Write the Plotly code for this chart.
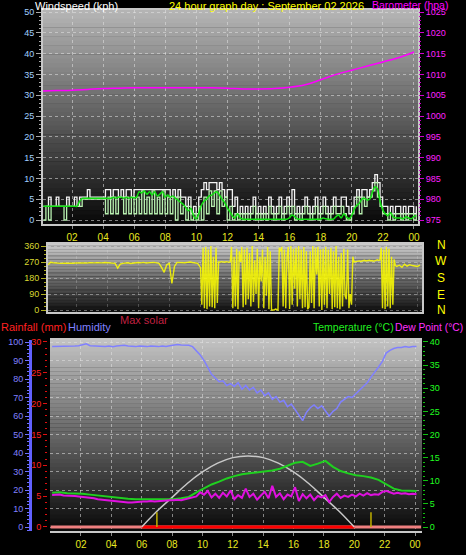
import numpy as np
import plotly.graph_objects as go

# ---------------- DATA ----------------
hour_ticks = [2, 4, 6, 8, 10, 12, 14, 16, 18, 20, 22, 24]
hour_labels = ["02", "04", "06", "08", "10", "12", "14", "16", "18", "20", "22", "00"]

# wind, 10-minute samples starting 00:09
wind_gust = [
    3.3, 3.3, 5.5, 3.3, 3.3, 5.5,
    3.3, 3.3, 3.3, 5.5, 3.3, 3.3,
    5.5, 3.3, 5.5, 5.5, 5.5, 7.3,
    5.5, 5.5, 5.5, 5.5, 5.5, 5.5,
    7.3, 7.3, 5.5, 7.3, 7.3, 5.5,
    7.3, 5.5, 7.3, 7.3, 5.5, 7.3,
    7.3, 7.3, 7.3, 7.3, 7.3, 7.3,
    7.3, 7.3, 7.3, 7.3, 7.3, 7.3,
    7.3, 5.5, 7.3, 5.5, 7.3, 5.5,
    5.5, 3.3, 5.5, 1.5, 3.3, 1.5,
    5.5, 7.3, 9.0, 7.3, 9.0, 9.0,
    9.0, 7.3, 9.0, 7.3, 5.5, 7.3,
    7.3, 3.3, 5.5, 1.5, 3.3, 1.5,
    3.3, 1.5, 3.3, 5.5, 1.5, 3.3,
    1.5, 3.3, 1.5, 5.5, 3.3, 1.5,
    3.3, 5.5, 1.5, 3.3, 5.5, 3.3,
    7.3, 1.5, 3.3, 1.5, 3.3, 5.5,
    3.3, 1.5, 3.3, 5.5, 1.5, 3.3,
    5.5, 3.3, 1.5, 3.3, 5.5, 3.3,
    3.3, 5.5, 5.5, 3.3, 1.5, 3.3,
    5.5, 7.3, 5.5, 7.3, 7.3, 5.5,
    7.3, 9.0, 10.9, 9.0, 5.5, 3.3,
    3.3, 1.5, 3.3, 1.5, 3.3, 3.3,
    1.5, 3.3, 1.5, 3.3, 3.3, 1.5,
    3.3,
]
wind_speed = [
    0, 3.3, 0, 3.3, 3.3, 3.3,
    3.3, 3.3, 0, 3.3, 3.3, 3.3,
    3.3, 3.3, 3.3, 5, 5, 5,
    5, 5, 5, 5, 5, 5,
    1.5, 5.5, 1.5, 5.5, 1.5, 5.5,
    5.5, 1.5, 5.5, 1.5, 5.5, 1.5,
    5.5, 1.5, 7, 1.5, 5.5, 1.5,
    7, 1.5, 5.5, 1.5, 7, 1.5,
    5.5, 1.5, 5.5, 0, 5.5, 1.5,
    3.3, 0, 3.3, 0, 1.5, 0,
    3.3, 0, 5.5, 1.5, 7, 3.3,
    7, 1.5, 7, 3.3, 5.5, 0,
    3.3, 0, 1.5, 0, 1.5, 0,
    1.5, 0, 1.5, 3.3, 0, 1.5,
    0, 1.5, 0, 3.3, 1.5, 0,
    1.5, 3.3, 0, 1.5, 3.3, 1.5,
    3.3, 0, 1.5, 0, 1.5, 3.3,
    1.5, 0, 1.5, 3.3, 0, 1.5,
    3.3, 1.5, 0, 1.5, 3.3, 1.5,
    1.5, 3.3, 1.5, 0, 0, 1.5,
    3.3, 5.5, 1.5, 5.5, 3.3, 5.5,
    5.5, 7, 9, 5.5, 3.3, 1.5,
    1.5, 0, 1.5, 0, 1.5, 1.5,
    0, 1.5, 0, 1.5, 1.5, 0,
    1.5,
]
wind_avg = [
    3.3, 3.3, 3.3, 3.3, 3.3, 3.3,
    3.3, 3.3, 3.3, 3.3, 3.3, 3.3,
    3.3, 3.3, 4.5, 5.2, 5.2, 5.2,
    5.2, 5.2, 5.2, 5.2, 5.2, 5.2,
    5.2, 5.2, 5.2, 5.5, 5.2, 5.5,
    5.5, 5.2, 5.5, 5.2, 5.5, 5.3,
    5.5, 6.8, 6.5, 7.0, 6.2, 6.8,
    6.0, 6.8, 5.8, 6.2, 6.8, 5.5,
    6.0, 5.5, 5.8, 5.2, 4.8, 4.2,
    3.8, 3.0, 2.2, 2.8, 1.0, 0.3,
    1.5, 3.5, 4.5, 5.0, 5.8, 6.0,
    6.5, 6.8, 6.0, 5.0, 4.2, 3.0,
    2.0, 1.0, 0.5, 1.5, 0.5, 0.2,
    0.2, 0.2, 0.2, 0.2, 0.2, 0.2,
    0.2, 0.2, 0.2, 0.2, 0.2, 0.2,
    0.2, 0.2, 0.2, 0.2, 0.2, 0.5,
    1.2, 0.8, 0.3, 0.2, 0.2, 0.2,
    0.2, 0.2, 0.2, 0.2, 0.2, 0.2,
    0.5, 0.3, 0.2, 0.2, 0.2, 0.8,
    1.2, 0.5, 1.5, 0.8, 0.3, 1.0,
    2.5, 3.5, 4.0, 5.0, 5.2, 4.8,
    5.0, 6.5, 8.0, 7.5, 4.5, 2.5,
    1.5, 1.0, 1.8, 0.8, 0.5, 0.5,
    0.5, 0.3, 0.8, 0.5, 0.3, 0.8,
    1.0,
]
# wind direction: calm morning (10-min), variable afternoon (5-min), calm night (10-min)
wind_dir_am = [
    255, 268, 266, 264, 265, 262,
    263, 262, 264, 262, 263, 265,
    264, 263, 265, 264, 266, 264,
    265, 266, 264, 265, 267, 266,
    266, 264, 262, 236, 258, 262,
    264, 266, 262, 265, 264, 267,
    265, 268, 264, 266, 266, 268,
    265, 262, 240, 212, 255, 262,
    150, 245, 268, 266, 267, 266,
    268, 270, 267, 264, 262,
]
wind_dir_var = [
    238, 30, 350, 10, 355, 5, 340, 20, 360, 15, 300, 10,
    350, 40, 270, 268, 272, 270, 271, 269, 272, 270, 268, 271,
    355, 10, 300, 20, 345, 5, 330, 270, 355, 15, 340, 30,
    350, 60, 320, 20, 360, 45, 280, 90, 345, 10, 300, 160,
    340, 10, 300, 80, 355, 5, 330, 0, 0, 0, 5, 0,
    0, 350, 330, 355, 20, 340, 10, 300, 355, 5, 360, 30,
    345, 120, 350, 20, 360, 60, 340, 10, 355, 15, 330, 5,
    15, 330, 40, 360, 10, 350, 200, 355, 20, 340, 0, 345,
    30, 355, 10, 340, 90, 350, 5, 330, 15, 360, 10, 300,
    5, 320, 20, 345, 80, 60, 340, 10, 90, 30, 300, 270,
    272, 275, 274, 276, 273, 275, 278, 280, 276, 277, 279, 280,
    276, 278, 274, 278, 280, 282, 279, 281, 350, 10, 340, 5,
    355, 20, 345, 10, 300, 30, 285, 250,
]
wind_dir_pm = [245, 252, 240, 258, 247, 255, 250, 248, 245, 252]

# barometer, hourly 00..24
baro_hours = list(range(25))
baro_hpa = [1006.0, 1006.1, 1006.2, 1006.4, 1006.6, 1006.7, 1006.8, 1006.8, 1006.8,
            1006.8, 1006.8, 1006.8, 1006.7, 1006.5, 1006.5, 1006.6, 1006.9, 1007.5,
            1008.7, 1010.0, 1011.0, 1012.0, 1013.0, 1014.0, 1015.4]

# humidity, 15-minute samples
humidity = [
    97.5, 97.5, 97.8, 97.5, 97.8, 97.6, 97.8, 98.0,
    98.5, 99.0, 98.0, 97.8, 97.8, 97.5, 97.6, 97.8,
    97.5, 97.8, 98.0, 98.2, 97.8, 97.6, 97.5, 97.8,
    97.6, 97.5, 97.8, 97.6, 97.5, 97.8, 97.6, 98.0,
    98.5, 98.6, 98.4, 98.5, 98.2, 97.5, 95.5, 93.0,
    90.0, 86.0, 82.5, 80.5, 78.5, 79.0, 76.5, 77.5,
    76.0, 78.0, 74.5, 76.5, 74.0, 75.5, 72.5, 74.0,
    71.0, 72.5, 69.0, 70.5, 67.5, 68.5, 65.0, 66.5,
    63.5, 60.0, 57.5, 62.0, 64.5, 66.0, 64.0, 65.5,
    63.0, 60.0, 62.5, 64.0, 67.5, 69.0, 70.5, 70.0,
    72.0, 74.5, 76.0, 78.0, 81.0, 83.5, 86.5, 89.5,
    94.0, 95.5, 96.5, 97.0, 97.0, 97.5, 97.2, 97.6,
    97.5,
]
# temperature, 30-minute samples
temperature = [
    7.4, 7.5, 7.3, 7.3, 7.2, 7.0, 6.8, 6.6, 6.5, 6.2,
    6.1, 6.0, 6.0, 6.0, 5.9, 6.0, 6.0, 6.2, 6.5, 7.5,
    8.4, 9.2, 9.8, 10.5, 11.0, 11.4, 11.6, 11.8, 12.0, 12.2,
    12.6, 13.2, 13.9, 14.1, 13.2, 13.7, 14.3, 13.0, 12.1, 11.6,
    11.2, 11.0, 10.7, 10.2, 9.3, 8.3, 7.9, 7.8, 7.8,
]
# dew point, 15-minute samples
dew_point = [
    6.9, 6.9, 7.0, 6.8, 6.8, 6.7, 6.7, 6.6,
    6.5, 6.5, 6.4, 6.2, 6.0, 5.9, 5.8, 5.7,
    5.6, 5.5, 5.4, 5.4, 5.3, 5.3, 5.4, 5.4,
    5.5, 5.5, 5.6, 5.5, 5.6, 5.7, 5.7, 5.8,
    5.8, 5.9, 5.8, 6.0, 6.2, 6.4, 6.6, 7.5,
    7.0, 7.8, 6.4, 7.2, 6.3, 7.4, 6.6, 7.9,
    6.0, 6.9, 6.3, 8.3, 6.5, 7.2, 5.9, 6.8,
    7.6, 6.2, 8.9, 6.5, 7.3, 6.0, 7.0, 6.6,
    8.6, 5.6, 7.1, 6.2, 7.0, 5.8, 6.7, 6.4,
    6.9, 5.4, 6.5, 7.2, 6.3, 6.8, 6.5, 7.0,
    6.6, 7.2, 6.8, 7.3, 6.9, 7.1, 7.0, 7.6,
    7.8, 7.5, 7.2, 7.4, 7.2, 7.3, 7.1, 7.2,
    7.1,
]
# max solar curve (drawn on temperature scale)
solar_hours = [6, 7, 8, 9, 10, 11, 12, 13, 14, 15, 16, 17, 18, 19, 20]
max_solar = [0, 3.4, 6.4, 9.4, 11.9, 13.8, 15.0, 15.35, 15.0, 13.8, 11.9, 9.4, 6.4, 3.4, 0]
solar_zero_hours = [6, 20]
solar_zero = [0, 0]
rain_hours = [0, 24.4]
rainfall = [0, 0]
sun_marker_hours = [7.0, 21.1]
sun_marker_height = [3.2, 3.2]

# ---------------- FIGURE ----------------
W, H = 466, 555
def px(x):
    return x / W
def py(y):
    return 1 - y / H

FONT = "Liberation Sans"
t_wind = np.arange(len(wind_gust)) / 6 + 0.15
t_dir = np.concatenate([np.arange(len(wind_dir_am)) / 6 + 0.15,
                        np.arange(len(wind_dir_var)) / 12 + 10.0,
                        np.arange(len(wind_dir_pm)) / 6 + 22.67])
wind_dir = wind_dir_am + wind_dir_var + wind_dir_pm
t_hum = np.arange(len(humidity)) * 0.25 + 0.1
t_temp = np.arange(len(temperature)) * 0.5 + 0.1
t_dew = np.arange(len(dew_point)) * 0.25 + 0.1

fig = go.Figure()

# top panel
fig.add_trace(go.Scatter(x=t_wind, y=wind_gust, mode="lines", line=dict(color="#f4f4f4", width=1.3, shape="hv"),
                         xaxis="x", yaxis="y", showlegend=False))
fig.add_trace(go.Scatter(x=t_wind, y=wind_speed, mode="lines", line=dict(color="#b8f0b0", width=1.3, shape="hv"),
                         xaxis="x", yaxis="y", showlegend=False))
fig.add_trace(go.Scatter(x=t_wind, y=wind_avg, mode="lines", line=dict(color="#10e010", width=1.5, shape="spline"),
                         xaxis="x", yaxis="y", showlegend=False))
fig.add_trace(go.Scatter(x=baro_hours, y=baro_hpa, mode="lines", line=dict(color="#ff00ff", width=1.5, shape="spline"),
                         xaxis="x", yaxis="y2", showlegend=False))
# middle panel
fig.add_trace(go.Scatter(x=t_dir, y=wind_dir, mode="lines", line=dict(color="rgba(255,255,0,0.85)", width=1.4),
                         xaxis="x2", yaxis="y3", showlegend=False))
# bottom panel
fig.add_trace(go.Scatter(x=rain_hours, y=rainfall, mode="lines", line=dict(color="#f08080", width=3),
                         xaxis="x3", yaxis="y5", showlegend=False))
fig.add_trace(go.Scatter(x=solar_zero_hours, y=solar_zero, mode="lines", line=dict(color="#ff0000", width=3),
                         xaxis="x3", yaxis="y6", showlegend=False))
fig.add_trace(go.Scatter(x=solar_hours, y=max_solar, mode="lines", line=dict(color="#c8c8c8", width=1.5, shape="spline"),
                         xaxis="x3", yaxis="y6", showlegend=False))
for h, v in zip(sun_marker_hours, sun_marker_height):
    fig.add_trace(go.Scatter(x=[h, h], y=[0, v], mode="lines", line=dict(color="#c0b000", width=1.5),
                             xaxis="x3", yaxis="y6", showlegend=False))
fig.add_trace(go.Scatter(x=t_hum, y=humidity, mode="lines", line=dict(color="#8080ff", width=1.5),
                         xaxis="x3", yaxis="y4", showlegend=False))
fig.add_trace(go.Scatter(x=t_temp, y=temperature, mode="lines", line=dict(color="#20d020", width=2),
                         xaxis="x3", yaxis="y6", showlegend=False))
fig.add_trace(go.Scatter(x=t_dew, y=dew_point, mode="lines", line=dict(color="#e010e0", width=2),
                         xaxis="x3", yaxis="y6", showlegend=False))

grid = dict(showgrid=True, gridcolor="rgba(225,225,225,0.55)", griddash="dot", gridwidth=1)

dom_top_x = [px(43), px(418)]
dom_top_y = [py(224), py(10)]
dom_mid_x = [px(48), px(422)]
dom_mid_y = [py(312), py(244)]
dom_bot_x = [px(50), px(422)]
dom_bot_y = [py(531), py(340)]

fig.update_layout(
    width=W, height=H,
    margin=dict(l=0, r=0, t=0, b=0, autoexpand=False),
    paper_bgcolor="#000000",
    plot_bgcolor="rgba(0,0,0,0)",
    showlegend=False,
    hovermode=False,
    xaxis=dict(domain=dom_top_x, anchor="y", range=[0.13, 24.26], tickvals=hour_ticks, ticktext=hour_labels,
               tickfont=dict(family=FONT, size=10, color="#e8e820"), ticks="outside", ticklen=3,
               tickcolor="#888888", zeroline=False, showline=True, mirror=True, linecolor="#c8c8c8", linewidth=2,
               **grid),
    yaxis=dict(domain=dom_top_y, anchor="x", range=[-0.96, 50.48], dtick=5, tick0=0,
               tickfont=dict(family=FONT, size=9, color="#a0d0ff"), ticks="outside", ticklen=5,
               tickcolor="#aaaaaa", minor=dict(dtick=1, ticklen=2, ticks="outside", tickcolor="#aaaaaa", showgrid=False),
               zeroline=False, showline=True, mirror=True, linecolor="#c8c8c8", linewidth=2, **grid),
    yaxis2=dict(overlaying="y", side="right", anchor="x", range=[974.04, 1025.48], dtick=5, tick0=975,
                tickfont=dict(family=FONT, size=9, color="#ff20ff"), ticks="outside", ticklen=5,
                tickcolor="#cc00cc", minor=dict(dtick=1, ticklen=2, ticks="outside", tickcolor="#cc00cc"),
                showgrid=False, zeroline=False),
    xaxis2=dict(domain=dom_mid_x, anchor="y3", range=[0.15, 24.3], tickvals=hour_ticks, showticklabels=False,
                ticks="", zeroline=False, showline=True, mirror=True, linecolor="#c8c8c8", linewidth=2,
                showgrid=True, gridcolor="rgba(225,225,225,0.25)", griddash="dot"),
    yaxis3=dict(domain=dom_mid_y, anchor="x2", range=[-11.25, 371.25], tickvals=[0, 90, 180, 270, 360],
                tickfont=dict(family=FONT, size=9, color="#d8d830"), ticks="outside", ticklen=5,
                tickcolor="#b0b020", minor=dict(dtick=22.5, ticklen=2, ticks="outside", tickcolor="#b0b020"),
                zeroline=False, showline=True, mirror=True, linecolor="#c8c8c8", linewidth=2,
                showgrid=True, gridcolor="rgba(225,225,225,0.45)", griddash="dot"),
    xaxis3=dict(domain=dom_bot_x, anchor="y4", range=[-0.04, 24.46], tickvals=hour_ticks, ticktext=hour_labels,
                tickfont=dict(family=FONT, size=10, color="#e8e820"), ticks="outside", ticklen=3,
                tickcolor="#888888", zeroline=False, showline=True, mirror=True, linecolor="#c8c8c8", linewidth=2,
                **grid),
    yaxis4=dict(domain=dom_bot_y, anchor="free", position=px(30), range=[-2.16, 101.08], dtick=10, tick0=0,
                tickfont=dict(family=FONT, size=9, color="#8080ff"), ticks="outside", ticklen=4,
                tickcolor="#7070ff", minor=dict(dtick=2, ticklen=2, ticks="outside", tickcolor="#7070ff"),
                zeroline=False, showline=True, linecolor="#6060ff", linewidth=3, **grid),
    yaxis5=dict(overlaying="y4", anchor="free", position=px(47), range=[-0.65, 30.32], dtick=5, tick0=0,
                tickfont=dict(family=FONT, size=9, color="#ff2020"), ticks="outside", ticklen=4,
                tickcolor="#dd1010", minor=dict(dtick=1, ticklen=2, ticks="outside", tickcolor="#dd1010"),
                showgrid=False, zeroline=False, showline=False),
    yaxis6=dict(overlaying="y4", side="right", anchor="x3", range=[-0.865, 40.43], dtick=5, tick0=0,
                tickfont=dict(family=FONT, size=9, color="#20ff20"), ticks="outside", ticklen=5,
                tickcolor="#10c010", minor=dict(dtick=1, ticklen=2, ticks="outside", tickcolor="#10c010"),
                showgrid=False, zeroline=False),
)

# gradient backgrounds (style only)
shapes = []
def gradient(xref, yref, top, bottom, n=48):
    for i in range(n):
        f = (i + 0.5) / n
        c = int(round(top + (bottom - top) * f))
        shapes.append(dict(type="rect", xref=xref, yref=yref, x0=0, x1=1,
                           y0=1 - (i + 1) / n, y1=1 - i / n + 0.002,
                           fillcolor=f"rgb({c},{c},{c})", line=dict(width=0), layer="below"))
gradient("x domain", "y domain", 182, 8)
gradient("x2 domain", "y3 domain", 205, 14)
gradient("x3 domain", "y4 domain", 195, 8)
fig.update_layout(shapes=shapes)

ann = []
def label(text, x, y, color, size=11, xanchor="left"):
    ann.append(dict(text=text, x=px(x), y=py(y), xref="paper", yref="paper", xanchor=xanchor,
                    yanchor="middle", showarrow=False, borderpad=0,
                    font=dict(family=FONT, size=size, color=color)))
label("Windspeed (kph)", 34, 6, "#ffffff")
label("24 hour graph day : September 02 2026", 266, 6, "#ffff00", xanchor="center")
label("Barometer (hpa)", 371, 5, "#ff00ff", size=10.5)
for txt, yy in zip(["N", "W", "S", "E", "N"], [245, 261, 278, 295, 310]):
    label(txt, 441, yy, "#ffff00", size=12, xanchor="center")
label("Max solar", 119, 320, "#c02040")
label("Rainfall (mm)", 0, 327, "#ff2020")
label("Humidity", 67, 327, "#8080ff")
label("Temperature (°C)", 312, 327, "#20f020", size=10.5)
label("Dew Point (°C)", 394, 327, "#ff30ff", size=10.3)
fig.update_layout(annotations=ann)

fig.write_html("out.html",
               config={"displayModeBar": False, "staticPlot": True},
               post_script="document.body.style.margin='0px';document.body.style.padding='0px';")
